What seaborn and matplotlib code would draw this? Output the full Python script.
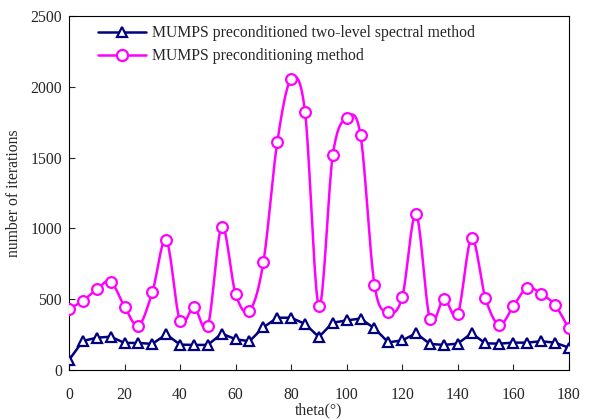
import numpy as np
import pandas as pd
import matplotlib
matplotlib.use("Agg")
import matplotlib.pyplot as plt
import seaborn as sns
from matplotlib.lines import Line2D

theta = list(range(0, 181, 5))
two_level = [71, 205, 228, 235, 191, 191, 184, 252, 179, 177, 177, 257, 217, 203, 301,
             369, 369, 325, 233, 334, 350, 363, 294, 195, 209, 259, 184, 177, 186, 259,
             188, 186, 193, 193, 203, 193, 158]
mumps_only = [431, 489, 570, 624, 447, 313, 549, 918, 344, 445, 311, 1012, 537, 417, 760,
              1608, 2053, 1824, 452, 1516, 1780, 1657, 603, 407, 513, 1099, 358, 501, 393, 930,
              506, 318, 450, 581, 537, 459, 294]
labels = ["MUMPS preconditioned two-level spectral method", "MUMPS preconditioning method"]


def smooth(x, y, n=20):
    # bezier smoothing like a spreadsheet "smoothed line"
    x = np.asarray(x, float)
    y = np.asarray(y, float)
    px = np.concatenate([[x[0]], x, [x[-1]]])
    py = np.concatenate([[y[0]], y, [y[-1]]])
    xs, ys = [], []
    t = np.linspace(0, 1, n)
    for i in range(1, len(px) - 2):
        p0 = np.array([px[i], py[i]])
        p3 = np.array([px[i + 1], py[i + 1]])
        p1 = p0 + (np.array([px[i + 1], py[i + 1]]) - np.array([px[i - 1], py[i - 1]])) / 6
        p2 = p3 - (np.array([px[i + 2], py[i + 2]]) - np.array([px[i], py[i]])) / 6
        b = ((1 - t) ** 3)[:, None] * p0 + (3 * (1 - t) ** 2 * t)[:, None] * p1 \
            + (3 * (1 - t) * t ** 2)[:, None] * p2 + (t ** 3)[:, None] * p3
        xs.extend(b[:, 0])
        ys.extend(b[:, 1])
    return np.array(xs), np.array(ys)


sns.set_style("ticks")
plt.rcParams["font.family"] = ["Liberation Serif", "DejaVu Serif"]
plt.rcParams["xtick.direction"] = "in"
plt.rcParams["ytick.direction"] = "in"

navy = "#000080"
magenta = "#FF00FF"
fs = 11.3

fig = plt.figure(figsize=(5.9, 4.19), dpi=100)
ax = fig.add_axes([0.117, 0.117, 0.847, 0.845])

df = pd.DataFrame({"theta": theta, "two": two_level, "mumps": mumps_only})

sx, sy = smooth(theta, mumps_only)
ax.plot(sx, sy, color=magenta, lw=1.8, zorder=2)
sns.scatterplot(data=df, x="theta", y="mumps", ax=ax, marker="o", s=60,
                facecolor="white", edgecolor=magenta, linewidth=1.6, zorder=3)

sns.lineplot(data=df, x="theta", y="two", ax=ax, color=navy, lw=1.8,
             marker="^", markersize=7, markerfacecolor="white",
             markeredgecolor=navy, markeredgewidth=1.6, zorder=4)

ax.set_xlim(0, 180)
ax.set_ylim(0, 2500)
ax.set_xticks(range(0, 181, 20))
ax.set_yticks(range(0, 2501, 500))
ax.tick_params(labelsize=fs, length=4, width=0.8, top=False, right=False)
ax.tick_params(axis="x", pad=12)
ax.tick_params(axis="y", pad=5)
ax.set_xlabel("theta(°)", fontsize=fs, labelpad=0)
ax.set_ylabel("number of iterations", fontsize=fs, labelpad=6)
for s in ax.spines.values():
    s.set_linewidth(0.8)
    s.set_color("black")

handles = [
    Line2D([], [], color=navy, lw=1.8, marker="^", markersize=7, markerfacecolor="white",
           markeredgecolor=navy, markeredgewidth=1.6),
    Line2D([], [], color=magenta, lw=1.8, marker="o", markersize=8, markerfacecolor="white",
           markeredgecolor=magenta, markeredgewidth=1.6),
]
ax.legend(handles, labels, loc="upper left", frameon=False, fontsize=fs,
          handlelength=3.0, handletextpad=0.4, borderaxespad=0.2,
          bbox_to_anchor=(0.04, 1.0), labelspacing=0.45)

fig.savefig("out.png", dpi=100)
